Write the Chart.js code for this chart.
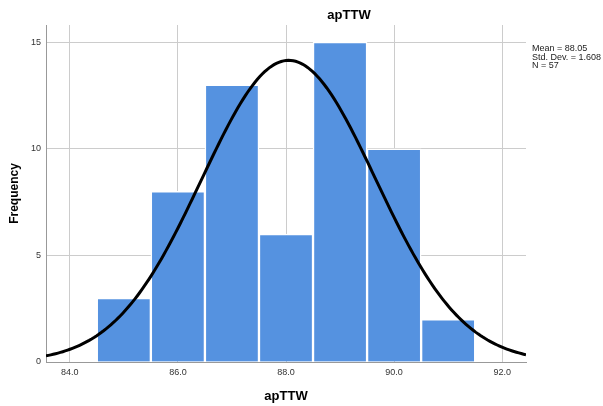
<!DOCTYPE html>
<html lang="en">
<head>
<meta charset="utf-8">
<script src="https://cdn.jsdelivr.net/npm/chart.js@4.4.1/dist/chart.umd.min.js"></script>
<style>
  body { margin: 0; background: #fff; }
  canvas { display: block; }
</style>
</head>
<body>
<canvas id="hist" width="603" height="406"></canvas>
<script>
  // histogram bins (width 1.0) and frequencies
  var binCenters = [85, 86, 87, 88, 89, 90, 91];
  var counts = [3, 8, 13, 6, 15, 10, 2];
  var xTicks = [84, 86, 88, 90, 92];
  var yTicks = [0, 5, 10, 15];
  var varName = 'apTTW';
  var statLabels = ['Mean = 88.05', 'Std. Dev. = 1.608', 'N = 57'];
  var mean = 88.05, sd = 1.608, n = 57, binWidth = 1;
  var xMin = 83.56, xMax = 92.44, yMax = 15.8;

  // normal curve scaled to the histogram counts
  var curve = [];
  var steps = 200;
  for (var i = 0; i <= steps; i++) {
    var x = xMin + (xMax - xMin) * i / steps;
    var z = (x - mean) / sd;
    curve.push({ x: x, y: n * binWidth / (sd * Math.sqrt(2 * Math.PI)) * Math.exp(-z * z / 2) });
  }

  // chart title and the stats block on the right
  var textPlugin = {
    id: 'texts',
    afterDraw: function(chart) {
      var ctx = chart.ctx;
      ctx.save();
      ctx.fillStyle = '#000';
      ctx.font = 'bold 13px Arial';
      ctx.textAlign = 'center';
      ctx.textBaseline = 'middle';
      ctx.fillText(varName, 349, 15);
      ctx.fillStyle = '#222';
      ctx.font = '9px Arial';
      ctx.textAlign = 'left';
      ctx.textBaseline = 'alphabetic';
      statLabels.forEach(function(t, i) {
        ctx.fillText(t, 532, 51 + i * 8.6);
      });
      ctx.restore();
    }
  };

  new Chart(document.getElementById('hist'), {
    type: 'bar',
    data: {
      datasets: [
        {
          type: 'line',
          data: curve,
          borderColor: '#000',
          borderWidth: 3,
          pointRadius: 0,
          tension: 0,
          order: 0
        },
        {
          type: 'bar',
          data: binCenters.map(function(c, i) { return { x: c, y: counts[i] }; }),
          backgroundColor: '#5592e0',
          borderColor: '#fff',
          borderWidth: 1.5,
          borderSkipped: 'bottom',
          barPercentage: 1,
          categoryPercentage: 1,
          order: 1
        }
      ]
    },
    options: {
      responsive: false,
      animation: false,
      layout: { padding: { top: 25, right: 77, left: 0, bottom: 0 } },
      plugins: { legend: { display: false }, tooltip: { enabled: false } },
      scales: {
        x: {
          type: 'linear',
          min: xMin,
          max: xMax,
          offset: false,
          afterBuildTicks: function(s) { s.ticks = xTicks.map(function(v) { return { value: v }; }); },
          afterFit: function(s) { s.height = 44; },
          ticks: {
            callback: function(v) { return Number(v).toFixed(1); },
            font: { family: 'Arial', size: 9 },
            color: '#333',
            padding: 5,
            maxRotation: 0
          },
          grid: { color: '#cccccc', drawTicks: false, offset: false },
          border: { color: '#999' },
          title: {
            display: true,
            text: varName,
            color: '#000',
            font: { family: 'Arial', size: 13, weight: 'bold' },
            padding: { top: 0, bottom: 2 }
          }
        },
        y: {
          min: 0,
          max: yMax,
          afterBuildTicks: function(s) { s.ticks = yTicks.map(function(v) { return { value: v }; }); },
          afterFit: function(s) { s.width = 46; },
          ticks: {
            font: { family: 'Arial', size: 9 },
            color: '#333',
            padding: 5
          },
          grid: { color: '#cccccc', drawTicks: false },
          border: { color: '#999' },
          title: {
            display: true,
            text: 'Frequency',
            color: '#000',
            font: { family: 'Arial', size: 12, weight: 'bold' },
            padding: { top: 7, bottom: 0 }
          }
        }
      }
    },
    plugins: [textPlugin]
  });
</script>
</body>
</html>
